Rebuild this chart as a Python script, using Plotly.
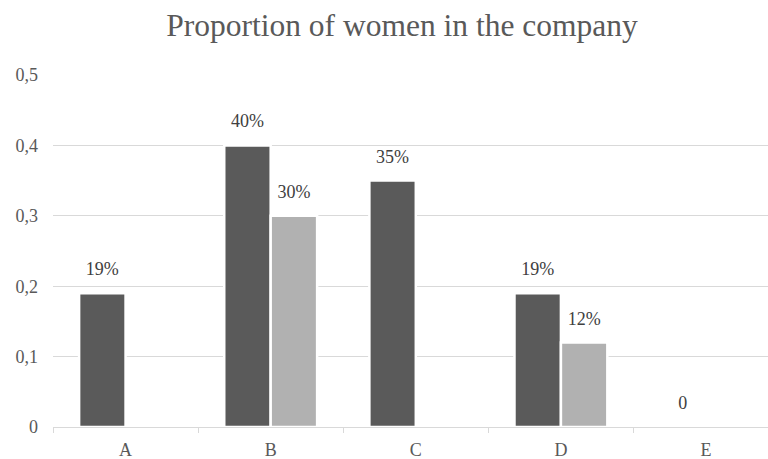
import plotly.graph_objects as go

# Share of women per company unit
categories = ["A", "B", "C", "D", "E"]
series_dark = [0.19, 0.40, 0.35, 0.19, 0.0]
series_light = [None, 0.30, None, 0.12, None]
y_ticks = [0, 0.1, 0.2, 0.3, 0.4, 0.5]
y_tick_text = ["0", "0,1", "0,2", "0,3", "0,4", "0,5"]

DARK = "#5a5a5a"
LIGHT = "#b1b1b1"
TEXT = "#595959"
LABEL = "#404040"
GRID = "#d9d9d9"
FONT = "Liberation Serif"


def pct_label(v):
    if v is None:
        return ""
    if v == 0:
        return "0"
    return f"{round(v * 100):d}%"


fig = go.Figure()

for name, vals, color in [("Series 1", series_dark, DARK), ("Series 2", series_light, LIGHT)]:
    fig.add_trace(go.Bar(
        x=categories, y=vals, name=name,
        marker=dict(color=color, line=dict(color="white", width=2.5)),
        hoverinfo="x+y",
    ))

# Value labels, grouped the same way as the bars and lifted above the bar tops
for name, vals in [("Series 1", series_dark), ("Series 2", series_light)]:
    fig.add_trace(go.Scatter(
        x=categories, y=vals, name=name + " labels",
        mode="markers+text",
        text=[pct_label(v) for v in vals],
        textposition="top center",
        textfont=dict(family=FONT, size=18, color=LABEL),
        marker=dict(size=20, opacity=0),
        hoverinfo="skip", showlegend=False,
    ))

fig.update_layout(
    width=768, height=459,
    margin=dict(l=53, r=0, t=75, b=32),
    paper_bgcolor="white", plot_bgcolor="white",
    barmode="group", bargap=0.36, bargroupgap=0,
    scattermode="group", scattergap=0.36,
    showlegend=False,
    font=dict(family=FONT, color=TEXT),
    title=dict(
        text="Proportion of women in the company",
        x=0.5234, xanchor="center", y=0.945, yanchor="middle", yref="container",
        font=dict(family=FONT, size=31.5, color=TEXT),
    ),
    xaxis=dict(
        type="category", range=[-0.5, 4.427],
        showline=True, linecolor=GRID, linewidth=1,
        ticks="outside", tickson="boundaries", ticklen=5, tickcolor=GRID,
        showgrid=False, ticklabelstandoff=6,
        tickfont=dict(family=FONT, size=18, color=TEXT),
    ),
    yaxis=dict(
        range=[0, 0.5], tickvals=y_ticks, ticktext=y_tick_text,
        showgrid=True, gridcolor=GRID, gridwidth=1,
        zeroline=False, showline=False,
        ticklabelstandoff=14,
        tickfont=dict(family=FONT, size=18, color=TEXT),
    ),
)

fig.write_html("out.html")
